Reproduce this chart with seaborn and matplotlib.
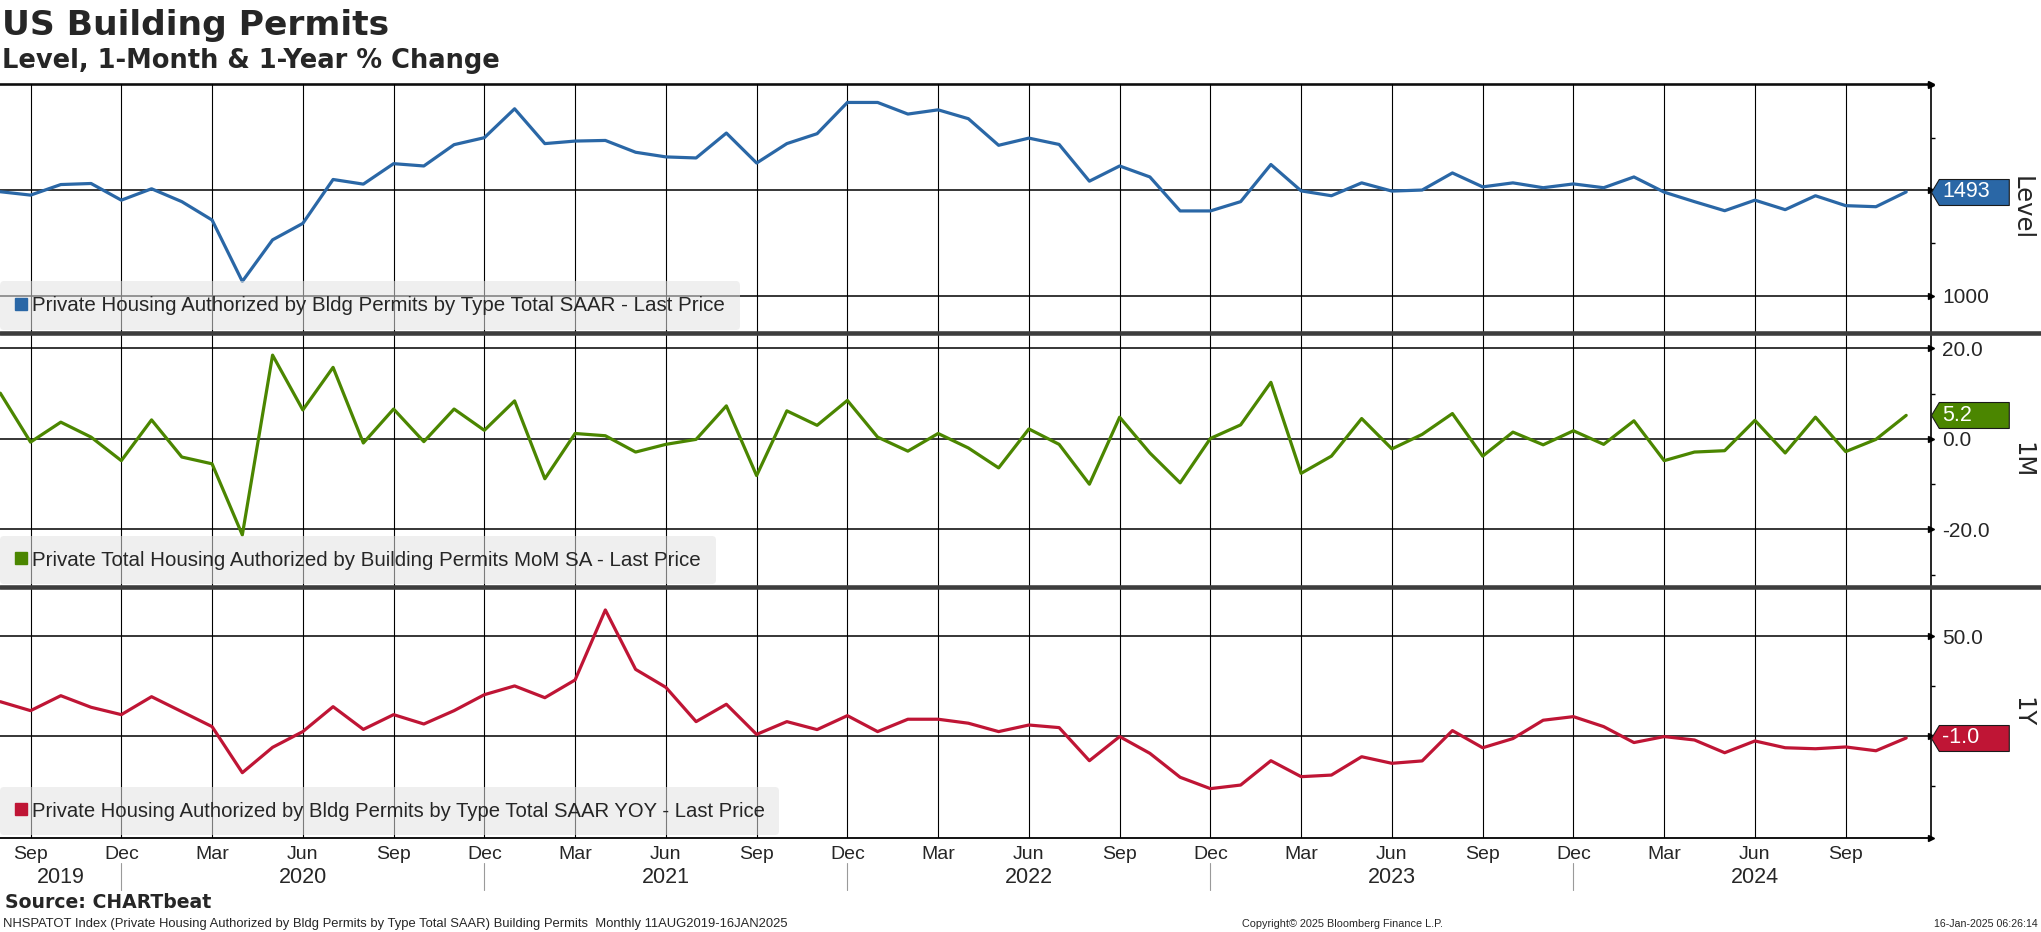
import numpy as np
import pandas as pd
import matplotlib.pyplot as plt
import seaborn as sns
import matplotlib.transforms as mtransforms
from matplotlib.path import Path
from matplotlib.lines import Line2D

# monthly data, Aug 2019 - Nov 2024
months = pd.date_range('2019-08-01', '2024-11-01', freq='MS')

level = [1494, 1478, 1528, 1533, 1454, 1508, 1447, 1360, 1069, 1266,
         1344, 1552, 1530, 1627, 1616, 1717, 1750, 1887, 1722, 1734,
         1737, 1681, 1659, 1654, 1772, 1630, 1722, 1769, 1917, 1917,
         1862, 1882, 1840, 1714, 1748, 1718, 1544, 1616, 1564, 1403,
         1403, 1447, 1623, 1498, 1475, 1536, 1497, 1502, 1583, 1517,
         1536, 1513, 1531, 1513, 1564, 1492, 1447, 1404, 1454, 1409,
         1475, 1428, 1423, 1493]

mom = [10.1, -0.7, 3.7, 0.4, -4.8, 4.2, -4.0, -5.5, -21.2, 18.5,
       6.4, 15.8, -0.9, 6.6, -0.6, 6.6, 1.9, 8.4, -8.8, 1.2,
       0.7, -2.9, -1.2, -0.1, 7.3, -8.1, 6.2, 3.0, 8.5, 0.4,
       -2.7, 1.2, -2.0, -6.4, 2.2, -1.2, -10.0, 4.8, -3.1, -9.7,
       0.1, 3.1, 12.5, -7.6, -3.8, 4.5, -2.2, 1.0, 5.6, -3.8,
       1.5, -1.3, 1.8, -1.2, 4.0, -4.8, -2.9, -2.6, 4.1, -3.1,
       4.8, -2.8, -0.1, 5.2]

yoy = [17.2, 12.7, 20.2, 14.4, 10.7, 19.7, 12.2, 4.7, -18.4, -5.7,
       2.2, 14.7, 3.3, 10.7, 6.0, 12.7, 20.7, 25.1, 19.2, 28.1,
       63.2, 33.4, 24.4, 7.2, 15.9, 0.8, 7.2, 3.2, 10.2, 2.2,
       8.4, 8.4, 6.4, 2.2, 5.5, 4.2, -12.4, -0.3, -8.7, -20.7,
       -26.4, -24.6, -12.4, -20.4, -19.6, -10.4, -13.7, -12.5, 2.7, -5.9,
       -1.3, 7.9, 9.7, 4.7, -3.3, -0.3, -2.0, -8.4, -2.5, -5.9,
       -6.4, -5.5, -7.4, -1.0]

legend_texts = ["Private Housing Authorized by Bldg Permits by Type Total SAAR - Last Price",
                "Private Total Housing Authorized by Building Permits MoM SA - Last Price",
                "Private Housing Authorized by Bldg Permits by Type Total SAAR YOY - Last Price"]
panel_names = ["Level", "1M", "1Y"]
tag_texts = ["1493", "5.2", "-1.0"]
colors = ["#2a67a6", "#4b8600", "#bf1535"]

year_labels = ["2019", "2020", "2021", "2022", "2023", "2024"]

df = pd.DataFrame({'month': months, 'level': level, 'mom': mom, 'yoy': yoy})
df['idx'] = np.arange(len(df))

sns.set_style("white")
plt.rcParams['font.family'] = ['Liberation Sans', 'DejaVu Sans']

W, H = 2041, 932
fig = plt.figure(figsize=(W / 100, H / 100), dpi=100)

# panel bounds in pixels (top, bottom)
bounds = [(84.3, 332.5), (332.5, 587.0), (587.0, 837.7)]
right_px = 1931
axes = []
for top, bot in bounds:
    axes.append(fig.add_axes([0, 1 - bot / H, right_px / W, (bot - top) / H]))

cols = ['level', 'mom', 'yoy']
ylims = [(827, 2003), (-32.7, 23.5), (-51.0, 74.7)]
major = [[1000, 1500, 2000], [-20, 0, 20], [0, 50]]
major_lbl = [["1000", "", ""], ["-20.0", "0.0", "20.0"], ["", "50.0"]]
minor = [[1250, 1750], [-30, -10, 10], [-25, 25]]
leg_sizes = [14.8, 14.8, 14.6]

qtr = df.index[df['month'].dt.month.isin([3, 6, 9, 12])].tolist()
qtr_lbl = [m.strftime('%b') for m in df['month'][qtr]]
dec_idx = df.index[df['month'].dt.month == 12].tolist()

for k, ax in enumerate(axes):
    sns.lineplot(data=df, x='idx', y=cols[k], ax=ax, color=colors[k], lw=2.3)
    ax.set_xlim(-0.01, 63.82)
    ax.set_ylim(*ylims[k])
    ax.set_xlabel("")
    ax.yaxis.tick_right()
    ax.set_yticks(major[k], major_lbl[k])
    ax.set_yticks(minor[k], minor=True)
    ax.tick_params(axis='y', which='major', length=0, pad=8, labelsize=15)
    ax.tick_params(axis='y', which='minor', length=3, width=1, color='black', direction='out')
    ax.set_xticks(qtr)
    ax.set_xticks(df['idx'], minor=True)
    ax.grid(True, axis='y', which='major', color='black', lw=1.1)
    ax.grid(True, axis='x', which='major', color='black', lw=0.8)
    ax.set_axisbelow(True)
    for s in ['left', 'top', 'bottom']:
        ax.spines[s].set_visible(False)
    ax.spines['right'].set_color('black')
    ax.spines['right'].set_linewidth(1.2)

    ytr = ax.get_yaxis_transform()
    # small arrowheads at major ticks on the right axis
    ax.plot([1] * len(major[k]), major[k], transform=ytr, marker='>', ms=4.5,
            color='black', ls='none', clip_on=False)

    # value tag on the right axis
    last = df[cols[k]].iloc[-1]
    tag = Path([(0, 0), (0.1, 0.167), (1, 0.167), (1, -0.167), (0.1, -0.167), (0, 0)],
               [Path.MOVETO] + [Path.LINETO] * 4 + [Path.CLOSEPOLY])
    ax.plot([1], [last], transform=ytr, marker=tag, ms=112, mfc=colors[k],
            mec='#1a1a1a', mew=0.8, ls='none', clip_on=False, zorder=6)
    ax.annotate(tag_texts[k], xy=(1, last), xycoords=ytr, xytext=(11, 0),
                textcoords='offset pixels', ha='left', va='center',
                color='white', fontsize=15.5, zorder=7, annotation_clip=False)

    ax.set_ylabel(panel_names[k], rotation=270, fontsize=17.5, va='center',
                  family='DejaVu Sans')
    ax.yaxis.set_label_position('right')
    ax.yaxis.set_label_coords(2034 / right_px, 0.5)

    handle = Line2D([], [], marker='s', ls='none', color=colors[k], markersize=9)
    leg = ax.legend([handle], [legend_texts[k]], loc='lower left', bbox_to_anchor=(0, 0.01),
                    borderaxespad=0, frameon=True, fancybox=True, facecolor='#e2e2e2',
                    framealpha=0.55, edgecolor='none', handlelength=0.6,
                    handletextpad=0.25, borderpad=0.72, fontsize=leg_sizes[k])
    leg.get_frame().set_linewidth(0)

    if k < 2:
        ax.tick_params(axis='x', which='both', length=0, labelbottom=False)
    else:
        ax.set_xticklabels(qtr_lbl)
        ax.tick_params(axis='x', which='both', length=4, width=1, color='black',
                       direction='out', pad=2, labelsize=14)
        ax.spines['bottom'].set_visible(True)
        ax.spines['bottom'].set_color('black')
        ax.spines['bottom'].set_linewidth(1.3)
        ax.plot([1], [0], transform=ax.transAxes, marker='>', ms=5, color='black',
                clip_on=False)

axes[0].spines['top'].set_visible(True)
axes[0].spines['top'].set_color('black')
axes[0].spines['top'].set_linewidth(1.1)
axes[0].plot([1], [1], transform=axes[0].transAxes, marker='>', ms=5, color='black',
             clip_on=False)

# year labels and separators under the month ticks
ax3 = axes[2]
btr = mtransforms.blended_transform_factory(ax3.transData, ax3.transAxes)
year_pos = [2] + [df.index[(df['month'].dt.year == int(y)) & (df['month'].dt.month == 6)][0]
                  for y in year_labels[1:]]
for y, xp in zip(year_labels, year_pos):
    ax3.text(xp, -0.157, y, transform=btr, ha='center', va='center', fontsize=15.5)
for xp in dec_idx:
    ax3.plot([xp, xp], [-0.10, -0.21], transform=btr, color='#9a9a9a', lw=0.8,
             clip_on=False)

# panel separators
for _, bot in bounds[:2]:
    fig.add_artist(Line2D([0, 1], [1 - bot / H, 1 - bot / H], transform=fig.transFigure,
                          color='#3d3d3d', lw=3.3))

fig.text(2 / W, 1 - 35 / H, "US Building Permits", fontsize=24.8, fontweight='bold',
         family='DejaVu Sans', va='baseline', ha='left')
fig.text(2 / W, 1 - 68.5 / H, "Level, 1-Month & 1-Year % Change", fontsize=18.5,
         fontweight='bold', family='DejaVu Sans', va='baseline', ha='left')
fig.text(5 / W, 1 - 908 / H, "Source: CHARTbeat", fontsize=13.6, fontweight='bold',
         family='DejaVu Sans', va='baseline', ha='left')
fig.text(3 / W, 1 - 927 / H,
         "NHSPATOT Index (Private Housing Authorized by Bldg Permits by Type Total SAAR) "
         "Building Permits  Monthly 11AUG2019-16JAN2025",
         fontsize=9.4, va='baseline', ha='left')
fig.text(1342 / W, 1 - 927 / H, "Copyright\u00a9 2025 Bloomberg Finance L.P.", fontsize=7.8,
         va='baseline', ha='center')
fig.text(2038 / W, 1 - 927 / H, "16-Jan-2025 06:26:14", fontsize=7.7,
         va='baseline', ha='right')

fig.savefig("out.png", dpi=100)
